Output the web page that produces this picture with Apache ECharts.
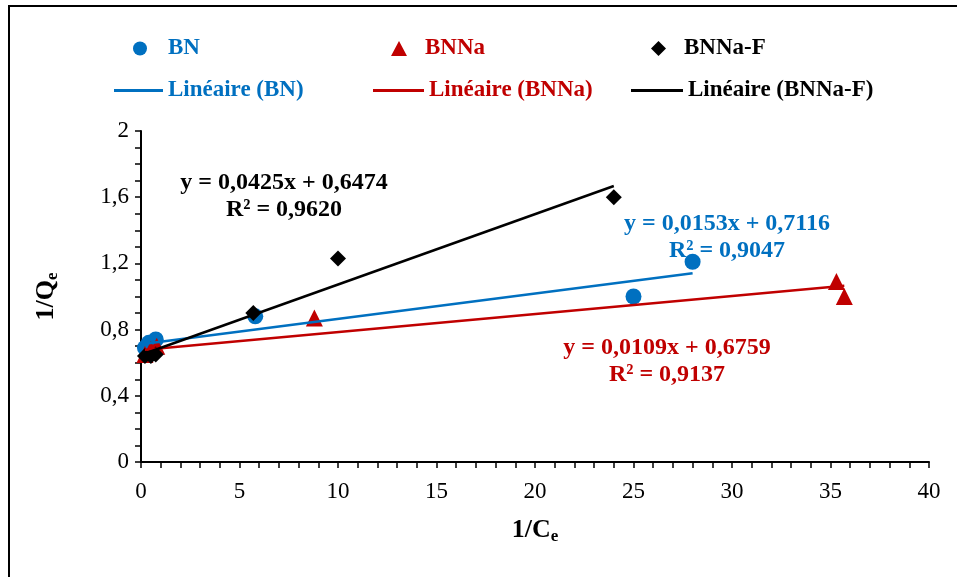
<!DOCTYPE html>
<html>
<head>
<meta charset="utf-8">
<script src="https://cdn.jsdelivr.net/npm/echarts@6/dist/echarts.min.js"></script>
<style>
  html, body { margin: 0; padding: 0; background: #fff; }
  #chart { width: 957px; height: 577px; }
</style>
</head>
<body>
<div id="chart"></div>
<script>
// Langmuir linearisation: 1/Qe versus 1/Ce for the three adsorbents
const seriesNames = ['BN', 'BNNa', 'BNNa-F'];
const trendNames = ['Linéaire (BN)', 'Linéaire (BNNa)', 'Linéaire (BNNa-F)'];
const colors = ['#0070C0', '#C00000', '#000000'];

const bnX = [0.2, 0.4, 0.75, 5.8, 25, 28];
const bnY = [0.69, 0.72, 0.74, 0.88, 1.0, 1.21];
const bnnaX = [0.2, 0.5, 0.8, 8.8, 35.3, 35.7];
const bnnaY = [0.65, 0.68, 0.70, 0.87, 1.09, 1.0];
const bnnafX = [0.2, 0.5, 0.75, 5.7, 10, 24];
const bnnafY = [0.64, 0.64, 0.65, 0.90, 1.23, 1.60];

// fitted linear trend coefficients (slope, intercept) and R²
const slopes = [0.0153, 0.0109, 0.0425];
const intercepts = [0.7116, 0.6759, 0.6474];
const r2 = ['0,9047', '0,9137', '0,9620'];

const xTicks = { min: 0, max: 40, interval: 5 };
const yTicks = { min: 0, max: 2, interval: 0.4 };

const xsAll = [bnX, bnnaX, bnnafX];
const ysAll = [bnY, bnnaY, bnnafY];
const symbols = ['circle', 'triangle', 'diamond'];
const symbolSizes = [16, 17, 16];

const FONT = '"Liberation Serif", "Times New Roman", serif';
const fmt = v => String(v).replace('.', ',');

const series = [];
xsAll.forEach((xs, i) => {
  series.push({
    name: seriesNames[i],
    type: 'scatter',
    symbol: symbols[i],
    symbolSize: symbolSizes[i],
    itemStyle: { color: colors[i], opacity: 1 },
    data: xs.map((x, k) => [x, ysAll[i][k]]),
    z: 3
  });
});
xsAll.forEach((xs, i) => {
  const x0 = Math.min(...xs), x1 = Math.max(...xs);
  series.push({
    name: trendNames[i],
    type: 'line',
    symbol: 'none',
    color: colors[i],
    lineStyle: { color: colors[i], width: 2.5 },
    data: [[x0, intercepts[i] + slopes[i] * x0], [x1, intercepts[i] + slopes[i] * x1]],
    z: 4,
    silent: true
  });
});

function legendItem(name, color, left, top, opts, padLeft) {
  return Object.assign({
    data: [name],
    left: left,
    top: top,
    selectedMode: false,
    textStyle: {
      color: color, fontFamily: FONT, fontWeight: 'bold', fontSize: 23,
      padding: [0, 0, 0, padLeft || 0]
    }
  }, opts);
}

const legends = [
  legendItem('BN', colors[0], 128, 32, { itemWidth: 14, itemHeight: 14 }, 16),
  legendItem('BNNa', colors[1], 386, 32, { itemWidth: 16, itemHeight: 15 }, 13),
  legendItem('BNNa-F', colors[2], 646, 32, { itemWidth: 15, itemHeight: 15 }, 13),
  legendItem('Linéaire (BN)', colors[0], 109, 74, { icon: 'rect', itemWidth: 49, itemHeight: 3 }),
  legendItem('Linéaire (BNNa)', colors[1], 368, 74, { icon: 'rect', itemWidth: 51, itemHeight: 3 }),
  legendItem('Linéaire (BNNa-F)', colors[2], 626, 74, { icon: 'rect', itemWidth: 52, itemHeight: 3 })
];

function eqText(i) {
  const s = slopes[i].toFixed(4).replace('.', ',');
  const b = intercepts[i].toFixed(4).replace('.', ',');
  return 'y = ' + s + 'x + ' + b + '\nR² = ' + r2[i];
}

// equation block centred horizontally on cx
function eqGraphic(i, cx, top) {
  return {
    type: 'text',
    x: cx,
    y: top,
    style: {
      text: eqText(i),
      fill: colors[i],
      font: 'bold 24px ' + FONT,
      align: 'center',
      verticalAlign: 'top',
      lineHeight: 27
    }
  };
}

const chart = echarts.init(document.getElementById('chart'), null, { renderer: 'canvas' });
chart.setOption({
  backgroundColor: '#fff',
  animation: false,
  grid: { left: 141, right: 28, top: 131, bottom: 115, containLabel: false },
  legend: legends,
  xAxis: {
    type: 'value',
    min: xTicks.min, max: xTicks.max, interval: xTicks.interval,
    name: '{b|1/C}{s|e}',
    nameLocation: 'middle',
    nameGap: 54,
    nameTextStyle: {
      rich: {
        b: { fontFamily: FONT, fontWeight: 'bold', fontSize: 26, color: '#000' },
        s: { fontFamily: FONT, fontWeight: 'bold', fontSize: 17, color: '#000', verticalAlign: 'bottom', padding: [12, 0, 0, 0] }
      }
    },
    axisLine: { lineStyle: { color: '#000', width: 2 } },
    axisTick: { show: true, inside: false, length: 6, lineStyle: { color: '#000', width: 1.5 } },
    minorTick: { show: true, splitNumber: 5, length: 6, lineStyle: { color: '#000', width: 1.5 } },
    axisLabel: { color: '#000', fontFamily: FONT, fontSize: 23, margin: 18, formatter: v => fmt(v) },
    splitLine: { show: false }
  },
  yAxis: {
    type: 'value',
    min: yTicks.min, max: yTicks.max, interval: yTicks.interval,
    name: '{b|1/Q}{s|e}',
    nameLocation: 'middle',
    nameGap: 80,
    nameRotate: 90,
    nameTextStyle: {
      rich: {
        b: { fontFamily: FONT, fontWeight: 'bold', fontSize: 26, color: '#000' },
        s: { fontFamily: FONT, fontWeight: 'bold', fontSize: 17, color: '#000', verticalAlign: 'bottom', padding: [12, 0, 0, 0] }
      }
    },
    axisLine: { show: true, lineStyle: { color: '#000', width: 2 } },
    axisTick: { show: true, inside: false, length: 6, lineStyle: { color: '#000', width: 1.5 } },
    minorTick: { show: true, splitNumber: 4, length: 6, lineStyle: { color: '#000', width: 1.5 } },
    axisLabel: { color: '#000', fontFamily: FONT, fontSize: 23, margin: 12, formatter: v => fmt(+v.toFixed(1)) },
    splitLine: { show: false }
  },
  graphic: [
    {
      type: 'rect',
      shape: { x: 9, y: 6, width: 1100, height: 700 },
      style: { fill: 'none', stroke: '#000', lineWidth: 2 },
      silent: true,
      z: -1
    },
    eqGraphic(2, 284, 169),
    eqGraphic(0, 727, 210),
    eqGraphic(1, 667, 334)
  ],
  series: series
});
</script>
</body>
</html>
